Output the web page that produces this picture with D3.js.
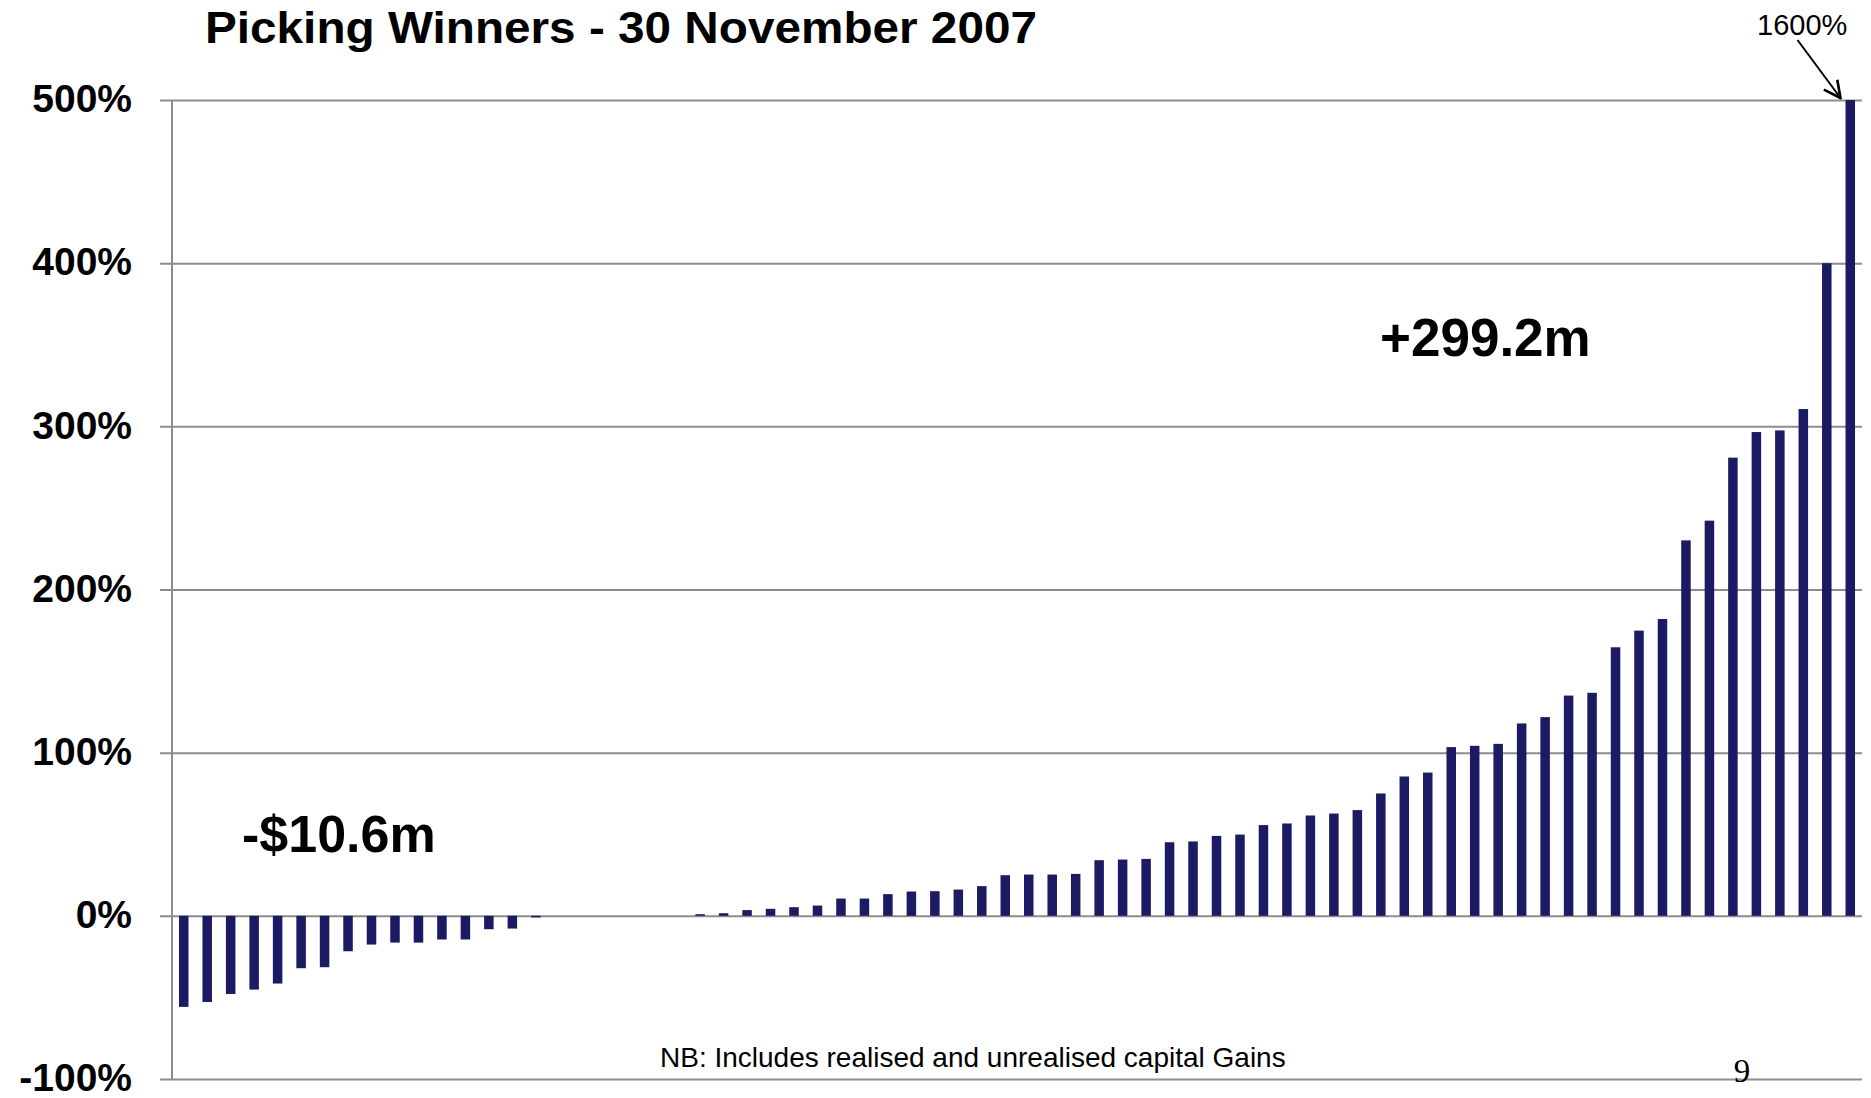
<!DOCTYPE html>
<html>
<head>
<meta charset="utf-8">
<script src="https://cdn.jsdelivr.net/npm/d3@7"></script>
<style>
  body { margin: 0; background: #fff; }
  svg text { font-family: "Liberation Sans", Arial, Helvetica, sans-serif; fill: #000; }
  .grid line { stroke: #8c8c8c; stroke-width: 2; }
  .grid .domain { display: none; }
  .grid text { font-size: 39px; font-weight: bold; }
  .bar { fill: #1b1b64; }
</style>
</head>
<body>
<script>
// Size of the page
var w = 1871,
    h = 1098;

var margin = { left: 172, right: 9, top: 100, bottom: 19 };

// One bar per holding, sorted by return since purchase (%)
var holdings = d3.range(1, 73);
var returns = [
  -55.8, -52.8, -47.9, -45.2, -41.5, -32.1, -31.5, -21.7, -17.6, -16.4,
  -16.4, -14.5, -14.5, -8.2, -7.8, -1.0,
  0, 0, 0, 0, 0, 0,
  1.0, 1.6, 3.5, 4.3, 5.3, 6.3, 10.6, 10.6, 13.3, 14.9,
  15.1, 16.1, 18.2, 24.9, 25.3, 25.3, 25.7, 34.1, 34.5, 34.9,
  45.1, 45.6, 49.0, 49.8, 55.6, 56.6, 61.5, 62.7, 64.8, 75.0,
  85.4, 87.8, 103.4, 104.2, 105.4, 117.9, 121.8, 135.0, 136.7, 164.6,
  174.8, 181.9, 230.1, 242.2, 280.8, 296.5, 297.5, 310.6, 400, 1600
];

var yTicks = [-100, 0, 100, 200, 300, 400, 500];

var title = 'Picking Winners - 30 November 2007';
var lossLabel = '-$10.6m';
var gainLabel = '+299.2m';
var note = 'NB: Includes realised and unrealised capital Gains';
var pageNumber = '9';

var svg = d3.select('body')
            .append('svg')
            .attr('width', w)
            .attr('height', h);

// Scales
var xScale = d3.scaleBand()
               .domain(holdings)
               .range([margin.left, w - margin.right])
               .paddingInner(0.595)
               .paddingOuter(0.2975);

var yScale = d3.scaleLinear()
               .domain([-100, 500])
               .range([h - margin.bottom, margin.top])
               .clamp(true); // the 1600% bar is cut off at the top

// Gridlines + labels (ticks stick out 12px left of the axis)
var yAxis = d3.axisLeft(yScale)
              .tickValues(yTicks)
              .tickSizeInner(-(w - margin.right - margin.left))
              .tickSizeOuter(0)
              .tickPadding(40)
              .tickFormat(function(d) { return d + '%'; });

var gAxis = svg.append('g')
   .attr('class', 'grid')
   .attr('transform', 'translate(' + margin.left + ',0)')
   .call(yAxis);

gAxis.selectAll('.tick line').attr('x1', -12);
gAxis.selectAll('.tick text').attr('dy', '0.3em');

// vertical axis line
svg.append('line')
   .attr('x1', margin.left).attr('x2', margin.left)
   .attr('y1', yScale(500)).attr('y2', yScale(-100))
   .attr('stroke', '#8c8c8c')
   .attr('stroke-width', 2);

// Bars
svg.selectAll('.bar')
   .data(returns)
   .enter()
   .append('rect')
   .attr('class', 'bar')
   .attr('x', function(d, i) { return xScale(holdings[i]); })
   .attr('width', xScale.bandwidth())
   .attr('y', function(d) { return yScale(Math.max(0, d)); })
   .attr('height', function(d) { return Math.abs(yScale(d) - yScale(0)); });

// Title
svg.append('text')
   .attr('x', 205)
   .attr('y', 43)
   .attr('textLength', 832)
   .attr('lengthAdjust', 'spacingAndGlyphs')
   .style('font-size', '45px')
   .style('font-weight', 'bold')
   .text(title);

// Totals
svg.append('text')
   .attr('x', 242)
   .attr('y', 852)
   .style('font-size', '52px')
   .style('font-weight', 'bold')
   .text(lossLabel);

svg.append('text')
   .attr('x', 1380)
   .attr('y', 356)
   .style('font-size', '53px')
   .style('font-weight', 'bold')
   .text(gainLabel);

// Off-the-chart bar callout
var lastIdx = returns.length - 1;
var tipX = xScale(holdings[lastIdx]) - 5,
    tipY = yScale(500) - 2;

svg.append('defs')
   .append('marker')
   .attr('id', 'arrow')
   .attr('viewBox', '0 0 12 12')
   .attr('refX', 11)
   .attr('refY', 6)
   .attr('markerWidth', 20)
   .attr('markerHeight', 20)
   .attr('markerUnits', 'userSpaceOnUse')
   .attr('orient', 'auto')
   .append('path')
   .attr('d', 'M1,1 L11,6 L1,11')
   .attr('fill', 'none')
   .attr('stroke', '#000')
   .attr('stroke-width', 1.6);

svg.append('line')
   .attr('x1', tipX - 43)
   .attr('y1', tipY - 58)
   .attr('x2', tipX)
   .attr('y2', tipY)
   .attr('stroke', '#000')
   .attr('stroke-width', 2)
   .attr('marker-end', 'url(#arrow)');

svg.append('text')
   .attr('x', 1757)
   .attr('y', 35)
   .style('font-size', '29px')
   .text(returns[lastIdx] + '%');

// Footnote and page number
svg.append('text')
   .attr('x', 660)
   .attr('y', 1067)
   .style('font-size', '28px')
   .text(note);

svg.append('text')
   .attr('x', 1742)
   .attr('y', 1082)
   .attr('text-anchor', 'middle')
   .style('font-family', '"Liberation Serif", "Times New Roman", serif')
   .style('font-size', '33px')
   .text(pageNumber);
</script>
</body>
</html>
